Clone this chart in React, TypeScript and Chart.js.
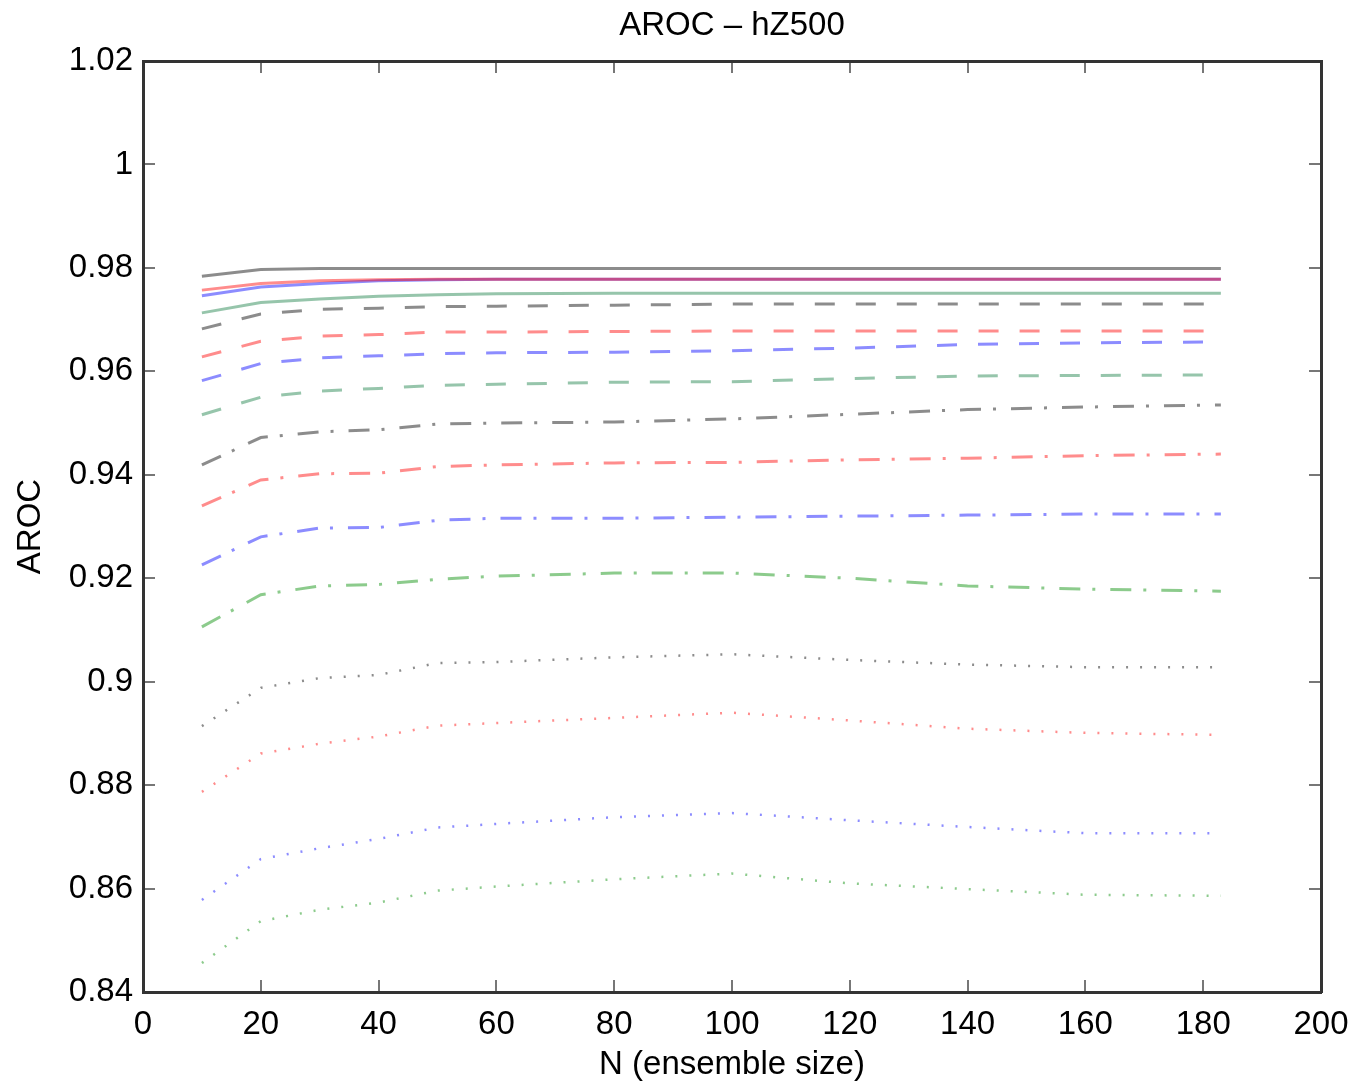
import { useEffect, useRef } from "react";
import { Chart, registerables } from "chart.js";

Chart.register(...registerables);

const chartTitle = "AROC – hZ500";
const xAxisTitle = "N (ensemble size)";
const yAxisTitle = "AROC";

const xValues = [10, 20, 30, 40, 50, 60, 80, 100, 120, 140, 160, 183];
const xTickLabels = ["0", "20", "40", "60", "80", "100", "120", "140", "160", "180", "200"];
const yTickLabels = ["0.84", "0.86", "0.88", "0.9", "0.92", "0.94", "0.96", "0.98", "1", "1.02"];

const solidGray = [0.9784, 0.9797, 0.9799, 0.9799, 0.9799, 0.9799, 0.9799, 0.9799, 0.9799, 0.9799, 0.9799, 0.9799];
const solidRed = [0.9757, 0.977, 0.9775, 0.9777, 0.9778, 0.9778, 0.9778, 0.9778, 0.9778, 0.9778, 0.9778, 0.9778];
const solidBlue = [0.9746, 0.9763, 0.977, 0.9775, 0.9777, 0.9778, 0.9778, 0.9778, 0.9778, 0.9778, 0.9778, 0.9778];
const solidGreen = [0.9713, 0.9733, 0.974, 0.9745, 0.9748, 0.975, 0.9751, 0.9751, 0.9751, 0.9751, 0.9751, 0.9751];

const dashedGray = [0.9682, 0.9711, 0.972, 0.9722, 0.9725, 0.9726, 0.9728, 0.973, 0.973, 0.973, 0.973, 0.973];
const dashedRed = [0.9628, 0.9658, 0.9668, 0.9671, 0.9676, 0.9676, 0.9677, 0.9678, 0.9678, 0.9678, 0.9678, 0.9678];
const dashedBlue = [0.9582, 0.9615, 0.9626, 0.963, 0.9634, 0.9636, 0.9637, 0.964, 0.9645, 0.9652, 0.9655, 0.9657];
const dashedGreen = [0.9516, 0.955, 0.9562, 0.9567, 0.9573, 0.9575, 0.9579, 0.958, 0.9586, 0.9591, 0.9592, 0.9593];

const dashDotGray = [0.9419, 0.9472, 0.9483, 0.9487, 0.9498, 0.95, 0.9502, 0.9508, 0.9517, 0.9526, 0.9531, 0.9535];
const dashDotRed = [0.934, 0.939, 0.9402, 0.9403, 0.9416, 0.9419, 0.9423, 0.9424, 0.9429, 0.9432, 0.9437, 0.944];
const dashDotBlue = [0.9226, 0.928, 0.9297, 0.9298, 0.9312, 0.9316, 0.9316, 0.9318, 0.932, 0.9322, 0.9324, 0.9324];
const dashDotGreen = [0.9106, 0.9168, 0.9185, 0.9188, 0.9198, 0.9204, 0.921, 0.921, 0.92, 0.9185, 0.9179, 0.9175];

const dottedGray = [0.8914, 0.8988, 0.9007, 0.9013, 0.9036, 0.9038, 0.9047, 0.9053, 0.9042, 0.9033, 0.9028, 0.9028];
const dottedRed = [0.8787, 0.8861, 0.888, 0.8894, 0.8915, 0.892, 0.893, 0.894, 0.8925, 0.8909, 0.8901, 0.8897];
const dottedBlue = [0.8578, 0.8657, 0.8678, 0.8696, 0.8718, 0.8725, 0.8738, 0.8746, 0.8732, 0.8719, 0.8707, 0.8707];
const dottedGreen = [0.8456, 0.8537, 0.8559, 0.8573, 0.8596, 0.8604, 0.8618, 0.8629, 0.861, 0.8599, 0.8588, 0.8586];

const GRAY = "rgba(0,0,0,0.45)";
const RED = "rgba(255,0,0,0.45)";
const BLUE = "rgba(0,0,255,0.45)";
const SEAGREEN = "rgba(46,139,87,0.5)";
const GREEN = "rgba(0,140,0,0.45)";

const FONT_FAMILY = "'Liberation Sans', Arial, Helvetica, sans-serif";
const FONT_SIZE = 33;

function series(values: number[]) {
  return values.map((y, i) => ({ x: xValues[i], y }));
}

function line(label: string, values: number[], color: string, dash: number[], width: number) {
  return {
    label,
    data: series(values),
    borderColor: color,
    backgroundColor: color,
    borderWidth: width,
    borderDash: dash,
    pointRadius: 0,
    fill: false,
    tension: 0,
  };
}

export default function App() {
  const canvasRef = useRef<HTMLCanvasElement | null>(null);

  useEffect(() => {
    if (!canvasRef.current) return;
    const SOLID: number[] = [];
    const DASHED = [20, 21];
    const DASHDOT = [21, 12, 3, 15];
    const DOTTED = [2, 12];

    const tickGrid = {
      drawOnChartArea: false,
      drawTicks: true,
      tickLength: -12,
      color: "#777",
      lineWidth: 2,
    };
    const border = { display: true, color: "#333", width: 3 };
    const tickFont = { family: FONT_FAMILY, size: FONT_SIZE };

    const chart = new Chart(canvasRef.current, {
      type: "line",
      data: {
        datasets: [
          line("solid gray", solidGray, GRAY, SOLID, 3),
          line("solid red", solidRed, RED, SOLID, 3),
          line("solid blue", solidBlue, BLUE, SOLID, 3),
          line("solid green", solidGreen, SEAGREEN, SOLID, 3),
          line("dashed gray", dashedGray, GRAY, DASHED, 3),
          line("dashed red", dashedRed, RED, DASHED, 3),
          line("dashed blue", dashedBlue, BLUE, DASHED, 3),
          line("dashed green", dashedGreen, SEAGREEN, DASHED, 3),
          line("dashdot gray", dashDotGray, GRAY, DASHDOT, 3),
          line("dashdot red", dashDotRed, RED, DASHDOT, 3),
          line("dashdot blue", dashDotBlue, BLUE, DASHDOT, 3),
          line("dashdot green", dashDotGreen, GREEN, DASHDOT, 3),
          line("dotted gray", dottedGray, GRAY, DOTTED, 2.5),
          line("dotted red", dottedRed, RED, DOTTED, 2.5),
          line("dotted blue", dottedBlue, BLUE, DOTTED, 2.5),
          line("dotted green", dottedGreen, GREEN, DOTTED, 2.5),
        ],
      },
      options: {
        animation: false,
        responsive: false,
        devicePixelRatio: 1,
        layout: { padding: { left: 0, right: 36, top: 0, bottom: 0 } },
        plugins: {
          legend: { display: false },
          tooltip: { enabled: false },
          title: {
            display: true,
            text: chartTitle,
            color: "#000",
            fullSize: false,
            font: { family: FONT_FAMILY, size: FONT_SIZE, weight: "normal", lineHeight: 1.2 },
            padding: { top: 6, bottom: 15.4 },
          },
        },
        scales: {
          x: {
            type: "linear",
            position: "bottom",
            min: 0,
            max: 200,
            grid: tickGrid,
            border,
            ticks: {
              stepSize: 20,
              color: "#000",
              font: tickFont,
              padding: 25,
              maxRotation: 0,
              autoSkip: false,
              callback: (_v: any, i: number) => xTickLabels[i],
            },
            title: {
              display: true,
              text: xAxisTitle,
              color: "#000",
              font: { family: FONT_FAMILY, size: FONT_SIZE, lineHeight: 1.2 },
              padding: { top: 0, bottom: 2 },
            },
            afterFit: (s: any) => {
              s.height = 95;
              s.paddingLeft = 0;
              s.paddingRight = 0;
            },
          },
          x2: {
            type: "linear",
            position: "top",
            min: 0,
            max: 200,
            grid: tickGrid,
            border,
            ticks: { stepSize: 20, display: false },
            afterFit: (s: any) => {
              s.height = 0;
              s.paddingLeft = 0;
              s.paddingRight = 0;
            },
          },
          y: {
            type: "linear",
            position: "left",
            min: 0.84,
            max: 1.02,
            grid: tickGrid,
            border,
            ticks: {
              stepSize: 0.02,
              color: "#000",
              font: tickFont,
              padding: 22,
              autoSkip: false,
              callback: (_v: any, i: number) => yTickLabels[i],
            },
            title: {
              display: true,
              text: yAxisTitle,
              color: "#000",
              font: { family: FONT_FAMILY, size: FONT_SIZE, lineHeight: 1.2 },
              padding: { top: 11, bottom: 0 },
            },
            afterFit: (s: any) => {
              s.width = 143;
            },
          },
          y2: {
            type: "linear",
            position: "right",
            min: 0.84,
            max: 1.02,
            grid: tickGrid,
            border,
            ticks: { stepSize: 0.02, display: false },
            afterFit: (s: any) => {
              s.width = 0;
            },
          },
        },
      } as any,
    });
    return () => chart.destroy();
  }, []);

  return (
    <div style={{ position: "fixed", left: 0, top: 0, width: 1357, height: 1087, background: "#fff" }}>
      <canvas ref={canvasRef} width={1357} height={1087} style={{ display: "block" }} />
    </div>
  );
}
